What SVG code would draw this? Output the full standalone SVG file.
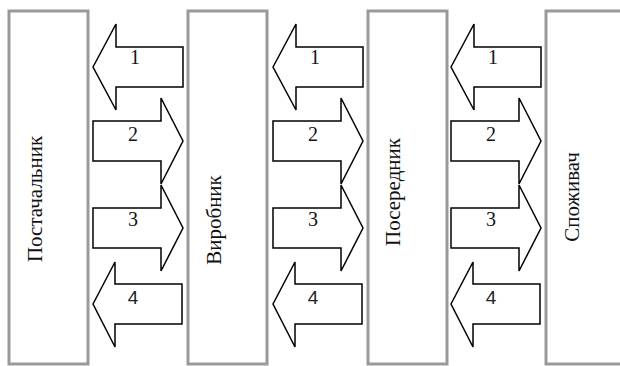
<svg xmlns="http://www.w3.org/2000/svg" width="620" height="366" viewBox="0 0 620 366">
<defs>
<style>
.box{fill:#fff;stroke:#9a9a9a;stroke-width:3}
.arr{fill:#fff;stroke:#000;stroke-width:1.5;stroke-linejoin:miter}
.lbl{font-family:"Liberation Serif",serif;font-size:21px;fill:#111}
.num{font-family:"Liberation Serif",serif;font-size:20px;fill:#111;text-anchor:middle}
.num4{font-family:"Liberation Sans",sans-serif;font-size:19px;fill:#222;text-anchor:middle}
</style>
<g id="lA"><polygon class="arr" points="93,67 116,24 116,47 183,47 183,87 116,87 116,110"/></g>
<g id="rB"><polygon class="arr" points="93,121 161,121 161,98 183,141 161,184 161,161 93,161"/></g>
<g id="rC"><polygon class="arr" points="93,208 161,208 161,185 183,228 161,271 161,248 93,248"/></g>
<g id="lD"><polygon class="arr" points="93,304 115,262 115,284 182,284 182,324 115,324 115,347"/></g>
</defs>
<rect width="620" height="366" fill="#fff"/>
<g id="node-postachalnyk"><rect class="box" x="9" y="11" width="79" height="353"/><text class="lbl" transform="translate(42,199) rotate(-90)" text-anchor="middle">Постачальник</text></g>
<g id="node-vyrobnyk"><rect class="box" x="188" y="11" width="79" height="353"/><text class="lbl" transform="translate(221,220) rotate(-90)" text-anchor="middle">Виробник</text></g>
<g id="node-poserednyk"><rect class="box" x="368" y="11" width="79" height="353"/><text class="lbl" transform="translate(400,192) rotate(-90)" text-anchor="middle">Посередник</text></g>
<g id="node-spozhyvach"><rect class="box" x="546" y="11" width="79" height="353"/><text class="lbl" transform="translate(579,197) rotate(-90)" text-anchor="middle">Споживач</text></g>
<g id="connectors">
<g id="gap1">
<use href="#lA"/><use href="#rB"/><use href="#rC"/><use href="#lD"/>
<text class="num" x="135" y="64">1</text><text class="num" x="133" y="141">2</text><text class="num" x="133" y="226">3</text><text class="num4" x="133" y="304">4</text>
</g>
<g id="gap2" transform="translate(180,0)">
<use href="#lA"/><use href="#rB"/><use href="#rC"/><use href="#lD"/>
<text class="num" x="135" y="64">1</text><text class="num" x="133" y="141">2</text><text class="num" x="133" y="226">3</text><text class="num4" x="133" y="304">4</text>
</g>
<g id="gap3" transform="translate(358,0)">
<use href="#lA"/><use href="#rB"/><use href="#rC"/><use href="#lD"/>
<text class="num" x="135" y="64">1</text><text class="num" x="133" y="141">2</text><text class="num" x="133" y="226">3</text><text class="num4" x="133" y="304">4</text>
</g>
</g>
</svg>
